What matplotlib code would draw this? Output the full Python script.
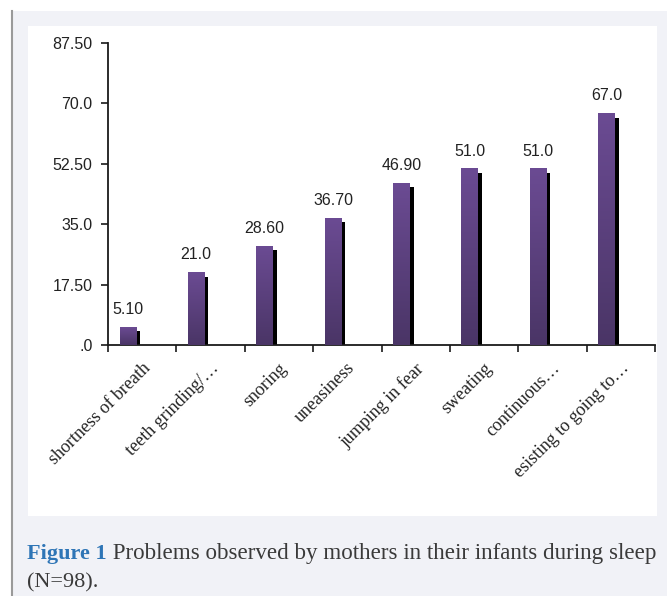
import matplotlib.pyplot as plt
import matplotlib.patches as patches
from matplotlib.colors import LinearSegmentedColormap
import numpy as np

# Data
categories = ['shortness of breath', 'teeth grinding/\u2026', 'snoring', 'uneasiness',
              'jumping in fear', 'sweating', 'continuous\u2026', 'esisting to going to\u2026']
values = [5.10, 21.0, 28.60, 36.70, 46.90, 51.0, 51.0, 67.0]
value_labels = ['5.10', '21.0', '28.60', '36.70', '46.90', '51.0', '51.0', '67.0']
y_ticks = [0, 17.5, 35.0, 52.5, 70.0, 87.5]
y_tick_labels = ['.0', '17.50', '35.0', '52.50', '70.0', '87.50']

W, H = 667, 596
fig = plt.figure(figsize=(W / 100, H / 100), dpi=100)
fig.patch.set_facecolor('white')

# page background, border line and white panel (pixel coords -> figure coords)
def px_rect(x0, y0, x1, y1, **kw):
    return patches.Rectangle((x0 / W, 1 - y1 / H), (x1 - x0) / W, (y1 - y0) / H,
                             transform=fig.transFigure, **kw)

fig.add_artist(px_rect(12, 11, W, H, facecolor='#F1F2F7', edgecolor='none', zorder=-3))
fig.add_artist(plt.Line2D([11.5 / W, 11.5 / W], [0, 1 - 11 / H], transform=fig.transFigure,
                          color='#9A9A9A', linewidth=1.5, zorder=-2))
fig.add_artist(px_rect(27.5, 26, 657, 516, facecolor='white', edgecolor='none', zorder=-1))

# axes
ax = fig.add_axes([108 / W, 1 - 345 / H, (655 - 108) / W, (345 - 43) / H])
ax.set_facecolor('none')

n = len(categories)
x = np.arange(n)
bar_off = -0.21
bar_w = 0.24
sh_dx = 4 / 68.4
sh_dy = 4 * 87.5 / 302

cmap = LinearSegmentedColormap.from_list('bar', ['#4A3566', '#6B4B93'])
grad = np.linspace(0, 1, 256).reshape(-1, 1)

for xi, v in zip(x, values):
    x0 = xi + bar_off - bar_w / 2
    # shadow
    ax.add_patch(patches.Rectangle((x0 + sh_dx, 0), bar_w, v - sh_dy,
                                   facecolor='black', edgecolor='none', zorder=2))
    # gradient bar
    ax.imshow(grad, extent=(x0, x0 + bar_w, 0, v), origin='lower', cmap=cmap,
              aspect='auto', zorder=3, interpolation='bilinear')

for xi, v, lab in zip(x, values, value_labels):
    ax.text(xi + bar_off, v + 3.0, lab, ha='center', va='bottom',
            fontsize=11.5, family='Liberation Sans', color='#222222')

ax.set_xlim(-0.5, n - 0.5)
ax.set_ylim(0, 87.5)

for s in ['top', 'right']:
    ax.spines[s].set_visible(False)
for s in ['left', 'bottom']:
    ax.spines[s].set_linewidth(1.3)
    ax.spines[s].set_color('#1a1a1a')

ax.set_yticks(y_ticks)
ax.set_yticklabels(y_tick_labels, family='Liberation Sans', fontsize=11.5, color='#222222')
ax.tick_params(axis='y', length=5, width=1.2, color='#1a1a1a', pad=6)

ax.set_xticks(np.arange(-0.5, n, 1.0))
ax.set_xticklabels([])
ax.tick_params(axis='x', which='major', length=5, width=1.2, color='#1a1a1a')
ax.set_xticks(x - 0.01, minor=True)
ax.set_xticklabels(categories, minor=True, rotation=45, ha='right', va='top',
                   rotation_mode='anchor', family='Liberation Serif', fontsize=13,
                   color='#222222')
ax.tick_params(axis='x', which='minor', length=0, pad=10.5)

# caption
fig_lab = fig.text(27 / W, 1 - 559 / H, 'Figure 1', fontsize=16, family='Liberation Serif',
                   fontweight='bold', color='#2E75B6', va='baseline', ha='left')
ax.annotate(' Problems observed by mothers in their infants during sleep',
            xy=(1, 0), xycoords=fig_lab, fontsize=16.6, family='Liberation Serif',
            color='#3a3a3a', va='bottom', ha='left', annotation_clip=False)
fig.text(27 / W, 1 - 587 / H, '(N=98).', fontsize=16, family='Liberation Serif',
         color='#3a3a3a', va='baseline', ha='left')

fig.savefig('out.png', dpi=100, facecolor=fig.get_facecolor())
